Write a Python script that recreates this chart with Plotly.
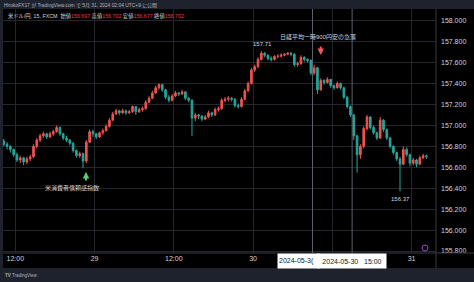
import plotly.graph_objects as go
import pandas as pd

# ---------------- data (USD/JPY, 30-min candles) ----------------
START = "2024-05-28 10:15"
FIRST_OPEN = 156.85
closes = [
    156.82, 156.80, 156.77, 156.72, 156.67, 156.69, 156.65, 156.68,
    156.70, 156.80, 156.86, 156.90, 156.92, 156.89, 156.92, 156.94,
    156.98, 156.92, 156.88, 156.86, 156.83, 156.76, 156.71, 156.73,
    156.66, 156.84, 156.94, 156.92, 156.89, 156.93, 156.95, 156.99,
    157.05, 157.11, 157.14, 157.12, 157.14, 157.12, 157.13, 157.18,
    157.13, 157.15, 157.16, 157.22, 157.26, 157.31, 157.36, 157.39,
    157.34, 157.27, 157.24, 157.28, 157.31, 157.30, 157.32, 157.26,
    157.24, 157.07, 157.10, 157.09, 157.06, 157.08, 157.12, 157.10,
    157.15, 157.16, 157.24, 157.25, 157.26, 157.25, 157.19, 157.18,
    157.25, 157.33, 157.40, 157.53, 157.56, 157.63, 157.69, 157.67,
    157.64, 157.63, 157.66, 157.66, 157.67, 157.68, 157.69, 157.68,
    157.58, 157.59, 157.65, 157.63, 157.62, 157.50, 157.55, 157.34,
    157.43, 157.41, 157.44, 157.38, 157.36, 157.40, 157.36, 157.27,
    157.18, 157.10, 156.90, 156.72, 156.80, 156.97, 157.08, 156.98,
    156.93, 156.88, 157.05, 156.96, 156.88, 156.80, 156.74, 156.68,
    156.63, 156.77, 156.72, 156.64, 156.67, 156.63, 156.69, 156.71,
    156.702,
]
highs = [
    156.87, 156.84, 156.81, 156.78, 156.74, 156.71, 156.70, 156.70,
    156.72, 156.82, 156.88, 156.92, 156.94, 156.93, 156.94, 156.96,
    157.00, 156.99, 156.93, 156.90, 156.87, 156.84, 156.77, 156.75,
    156.74, 156.86, 156.96, 156.96, 156.93, 156.94, 156.97, 157.01,
    157.07, 157.13, 157.16, 157.15, 157.16, 157.15, 157.15, 157.19,
    157.18, 157.17, 157.18, 157.24, 157.28, 157.33, 157.38, 157.40,
    157.39, 157.35, 157.29, 157.30, 157.33, 157.32, 157.34, 157.33,
    157.27, 157.25, 157.12, 157.11, 157.10, 157.10, 157.14, 157.13,
    157.17, 157.18, 157.26, 157.27, 157.28, 157.27, 157.26, 157.21,
    157.27, 157.35, 157.42, 157.55, 157.58, 157.65, 157.71, 157.70,
    157.68, 157.66, 157.67, 157.68, 157.69, 157.69, 157.70, 157.70,
    157.69, 157.61, 157.67, 157.66, 157.64, 157.63, 157.58, 157.56,
    157.45, 157.44, 157.46, 157.44, 157.39, 157.42, 157.41, 157.37,
    157.28, 157.19, 157.11, 156.91, 156.82, 156.99, 157.10, 157.09,
    157.00, 156.94, 157.08, 157.06, 156.97, 156.89, 156.81, 156.75,
    156.70, 156.80, 156.79, 156.73, 156.69, 156.68, 156.71, 156.73,
    156.72,
]
lows = [
    156.80, 156.77, 156.74, 156.70, 156.65, 156.64, 156.62, 156.63,
    156.66, 156.69, 156.78, 156.84, 156.88, 156.87, 156.88, 156.90,
    156.93, 156.90, 156.86, 156.84, 156.81, 156.74, 156.69, 156.69,
    156.59, 156.64, 156.83, 156.89, 156.87, 156.88, 156.91, 156.94,
    156.98, 157.04, 157.10, 157.10, 157.11, 157.10, 157.11, 157.12,
    157.10, 157.12, 157.13, 157.15, 157.21, 157.25, 157.30, 157.34,
    157.32, 157.25, 157.22, 157.23, 157.27, 157.28, 157.29, 157.24,
    157.22, 156.90, 157.04, 157.06, 157.04, 157.05, 157.07, 157.08,
    157.09, 157.13, 157.15, 157.22, 157.23, 157.23, 157.17, 157.16,
    157.17, 157.24, 157.32, 157.39, 157.51, 157.55, 157.62, 157.65,
    157.62, 157.61, 157.62, 157.64, 157.65, 157.66, 157.67, 157.66,
    157.56, 157.56, 157.58, 157.61, 157.60, 157.48, 157.48, 157.30,
    157.33, 157.39, 157.40, 157.36, 157.34, 157.35, 157.34, 157.25,
    157.16, 157.08, 156.86, 156.55, 156.68, 156.78, 156.95, 156.96,
    156.91, 156.86, 156.87, 156.94, 156.86, 156.78, 156.72, 156.66,
    156.37, 156.62, 156.70, 156.61, 156.62, 156.60, 156.62, 156.68,
    156.68,
]
opens = [FIRST_OPEN] + closes[:-1]
times = pd.date_range(START, periods=len(closes), freq="30min")

x_tick_vals = ["2024-05-28 12:00", "2024-05-29 00:00", "2024-05-29 12:00",
               "2024-05-30 00:00", "2024-05-30 12:00", "2024-05-31 00:00"]
x_tick_text = ["12:00", "29", "12:00", "30", "", "31"]   # 30th 12:00 label is hidden behind the marker boxes
y_tick_vals = [155.8, 156.0, 156.2, 156.4, 156.6, 156.8, 157.0, 157.2, 157.4, 157.6, 157.8, 158.0]
y_tick_text = [f"{v:.3f}" for v in y_tick_vals]

marker_lines = ["2024-05-30 09:00", "2024-05-30 15:00"]
marker_label_left = "2024-05-3("            # truncated by the right box, as in the reference
marker_label_right = "2024-05-30\u00a0\u00a0\u00a015:00"

header1 = "HirokoFX17 が TradingView.com で 5月 31, 2024 02:04 UTC+9 に公開"
symbol_txt = "米ドル/円, 15, FXCM"
ohlc_names = ["始値", "高値", "安値", "終値"]
ohlc_vals = ["156.697", "156.702", "156.677", "156.702"]

# ---------------- styling ----------------
UP = "#ef5350"
DOWN = "#26a69a"
GRID = "#23262d"
BORDER = "#363a45"
TXT = "#d1d4dc"
FONT = "Liberation Sans, Noto Sans CJK JP, sans-serif"

W, H = 474, 282
ML, MR, MT, MB = 3, 38, 9, 29
PW, PH = W - ML - MR, H - MT - MB


def px_x(p):
    return (p - ML) / PW


def px_y(p):
    return (H - MB - p) / PH


fig = go.Figure(go.Candlestick(
    x=times, open=opens, high=highs, low=lows, close=closes,
    increasing=dict(line=dict(color=UP, width=1), fillcolor=UP),
    decreasing=dict(line=dict(color=DOWN, width=1), fillcolor=DOWN),
    whiskerwidth=0, hoverinfo="skip",
))

shapes = [
    dict(type="rect", xref="paper", yref="paper", x0=0, x1=px_x(W), y0=px_y(268), y1=1,
         fillcolor="#000000", line=dict(width=0), layer="below"),
    dict(type="line", xref="paper", yref="paper", x0=0, x1=px_x(W), y0=0, y1=0,
         line=dict(color=BORDER, width=1)),
    dict(type="line", xref="paper", yref="paper", x0=1, x1=1, y0=px_y(268), y1=1,
         line=dict(color=BORDER, width=1)),
    dict(type="circle", xref="paper", yref="paper", x0=px_x(422), x1=px_x(428),
         y0=px_y(251), y1=px_y(245), line=dict(color="#9c4dcc", width=1)),
]
for t in marker_lines:
    shapes.append(dict(type="line", xref="x", yref="paper", x0=t, x1=t, y0=0, y1=1,
                       line=dict(color="#5d606b", width=1)))

ohlc_html = " ".join(f"{n}<span style='color:#f23645'>{v}</span>" for n, v in zip(ohlc_names, ohlc_vals))

annotations = [
    dict(xref="paper", yref="paper", x=px_x(2), y=px_y(5.7), xanchor="left", yanchor="middle",
         text=header1, showarrow=False, font=dict(size=4.9, color="#b2b5be", family=FONT)),
    dict(xref="paper", yref="paper", x=px_x(6), y=px_y(15.7), xanchor="left", yanchor="middle",
         text=f"{symbol_txt}  {ohlc_html}", showarrow=False, font=dict(size=5.3, color=TXT, family=FONT)),
    dict(xref="paper", yref="paper", x=px_x(3), y=px_y(275), xanchor="left", yanchor="middle",
         text="<b>TV</b> TradingView", showarrow=False, font=dict(size=4.5, color="#b2b5be", family=FONT)),
    # high / low labels
    dict(x="2024-05-30 01:30", y=157.71, yanchor="bottom", yshift=2, text="157.71",
         showarrow=False, font=dict(size=6, color=TXT, family=FONT)),
    dict(x="2024-05-30 22:15", y=156.37, yanchor="top", yshift=-3, text="156.37",
         showarrow=False, font=dict(size=6, color=TXT, family=FONT)),
    # Nikkei note
    dict(x="2024-05-30 09:48", y=157.844, yanchor="middle", text="日経平均一時900円安の急落",
         showarrow=False, font=dict(size=6, color=TXT, family=FONT)),
    dict(x="2024-05-30 10:15", y=157.672, ax=0, ay=-10, showarrow=True, arrowhead=2,
         arrowsize=0.65, arrowwidth=2, arrowcolor="#f7525f", text=""),
    # US consumer confidence note
    dict(x="2024-05-28 22:42", y=156.555, ax=0, ay=10, showarrow=True, arrowhead=2,
         arrowsize=0.65, arrowwidth=2, arrowcolor="#5fc97a", text=""),
    dict(x="2024-05-28 20:35", y=156.40, yanchor="middle", text="米消費者信頼感指数",
         showarrow=False, font=dict(size=6, color=TXT, family=FONT)),
    # vertical-line labels on the time axis
    dict(xref="paper", yref="paper", x=px_x(277), y=px_y(261), xanchor="left", yanchor="middle",
         text=marker_label_left, showarrow=False, bgcolor="#ffffff", width=39, height=12,
         borderpad=1, align="left", font=dict(size=7, color="#131722", family=FONT)),
    dict(x=marker_lines[1], xref="x", yref="paper", y=px_y(261), yanchor="middle",
         text=marker_label_right, showarrow=False, bgcolor="#ffffff", width=66, height=12,
         borderpad=1, font=dict(size=7, color="#131722", family=FONT)),
]

fig.update_layout(
    width=W, height=H,
    margin=dict(l=ML, r=MR, t=MT, b=MB, pad=0),
    paper_bgcolor="#1e222d", plot_bgcolor="#000000",
    showlegend=False, shapes=shapes, annotations=annotations,
    font=dict(family=FONT, color=TXT, size=7),
    xaxis=dict(type="date", range=["2024-05-28 10:08", "2024-05-31 03:42"],
               tickmode="array", tickvals=x_tick_vals, ticktext=x_tick_text,
               showgrid=True, gridcolor=GRID, gridwidth=1, ticks="", showline=False,
               zeroline=False, rangeslider=dict(visible=False), fixedrange=True,
               tickfont=dict(size=7, color=TXT)),
    yaxis=dict(side="right", range=[155.781, 158.112], tickmode="array",
               tickvals=y_tick_vals, ticktext=y_tick_text, showgrid=True, gridcolor=GRID,
               gridwidth=1, ticks="", showline=False, zeroline=False, fixedrange=True,
               ticklabelstandoff=4, tickfont=dict(size=7, color=TXT)),
    hovermode=False,
)

fig.write_html("out.html", config={"displayModeBar": False})
